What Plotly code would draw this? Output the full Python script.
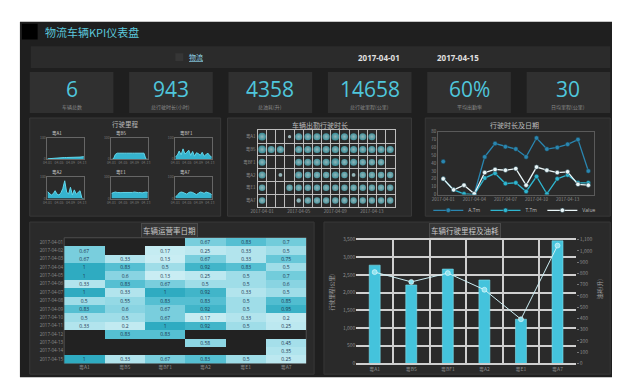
import plotly.graph_objects as go

W, H = 620, 380
CJK = "Noto Sans CJK SC"
NUM = "Open Sans"

# ---------------- data ----------------
dash_title = "物流车辆KPI仪表盘"
filter_label = "物流"
date_from = "2017-04-01"
date_to = "2017-04-15"

kpi_values = ["6", "943", "4358", "14658", "60%", "30"]
kpi_labels = ["车辆总数", "总行驶时长(小时)", "总油耗(升)", "总行驶里程(公里)", "平均出勤率", "日均里程(公里)"]

panel_titles = ["行驶里程", "车辆出勤行驶时长", "行驶时长及日期", "车辆运营率日期", "车辆行驶里程及油耗"]

vehicles = ["粤A1", "粤B5", "粤BF1", "粤A2", "粤E1", "粤A7"]
dates = ["2017-04-01", "2017-04-02", "2017-04-03", "2017-04-04", "2017-04-05",
         "2017-04-06", "2017-04-07", "2017-04-08", "2017-04-09", "2017-04-10",
         "2017-04-11", "2017-04-12", "2017-04-13", "2017-04-14", "2017-04-15"]

# small multiples (mileage per vehicle)
mini_1 = [2, 3, 4, 5, 6, 6, 7, 7, 8, 8, 8, 8, 7, 7, 8, 9, 9, 10, 11, 12]
mini_2 = [0, 0, 22, 28, 28, 27, 28, 28, 28, 27, 28, 28, 28, 28, 28, 27, 28, 28, 0, 0]
mini_3 = [12, 18, 38, 20, 48, 24, 32, 42, 18, 36, 14, 30, 26, 18, 32, 14, 22, 28, 16, 10]
mini_4 = [32, 26, 16, 22, 36, 20, 16, 26, 46, 82, 30, 20, 52, 16, 40, 20, 26, 36, 0, 0]
mini_5 = [24, 28, 30, 28, 26, 27, 28, 28, 27, 28, 26, 28, 30, 28, 27, 28, 26, 28, 30, 28]
mini_6 = [8, 14, 26, 30, 28, 24, 20, 28, 30, 28, 24, 18, 24, 30, 28, 24, 30, 28, 24, 18]
minis = [mini_1, mini_2, mini_3, mini_4, mini_5, mini_6]

# dot matrix (vehicle x date), None = no record
dots_1 = [0.8, None, None, 0.1, 0.7, 0.7, 0.7, 0.7, 0.8, 0.7, 0.7, 0.7, 0.7, None, None]
dots_2 = [0.8, 0.7, 0.7, None, 0.7, 0.7, 0.7, 0.7, 0.7, 0.7, 0.7, 0.7, 0.7, 0.7, 0.7]
dots_3 = [0.7, None, None, None, 0.7, 0.7, 0.7, 0.7, 0.8, 0.6, 0.7, 0.6, 0.6, 0.6, None]
dots_4 = [0.7, None, 0.2, None, 0.7, 0.6, 0.6, 0.6, 0.7, 0.6, 0.2, 0.6, 0.6, 0.6, 0.6]
dots_5 = [0.6, None, None, 0.6, 0.6, 0.6, 0.6, 0.6, 0.6, 0.6, 0.6, 0.6, 0.6, 0.6, 0.6]
dots_6 = [0.6, None, None, None, 0.3, 0.6, 0.6, 0.6, 0.6, 0.6, 0.6, 0.6, 0.6, 0.6, 0.6]
dot_rows = [dots_1, dots_2, dots_3, dots_4, dots_5, dots_6]

# line chart
line_names = ["A.Tm", "T.Tm", "Value"]
line_a = [42, None, None, 1, 48, 65, 61, 58, 48, 72, 58, 60, 64, 70, 30]
line_b = [20, 6, 1, 0, 21, 27, 14, 15, 4, 23, 1, 20, 25, 15, 15]
line_c = [20, 6, 12, 1, 28, 32, 31, 33, 12, 35, 31, 28, 29, 13, 12]

# heatmap (date rows x vehicle columns)
heat = [
    [None, None, None, 0.67, 0.83, 0.7],
    [0.67, None, 0.17, 0.25, 0.33, 0.5],
    [0.67, 0.33, 0.13, 0.67, 0.33, 0.75],
    [1, 0.83, 0.5, 0.92, 0.83, 0.5],
    [1, 0.6, 0.13, 0.25, 0.5, 0.7],
    [0.33, 0.83, 0.67, 0.5, 0.5, 0.6],
    [1, 0.33, 1, 0.92, 0.33, 0.5],
    [0.5, 0.55, 0.83, 0.83, 0.5, 0.85],
    [0.83, 0.6, 0.67, 0.92, 0.5, 0.95],
    [0.5, 0.5, 0.67, 0.17, 0.33, 0.2],
    [0.33, 0.2, 1, 0.92, 0.5, 0.25],
    [None, 0.83, 0.83, None, None, None],
    [None, None, None, 0.58, None, 0.45],
    [None, None, None, None, None, 0.35],
    [1, 0.33, 0.67, 0.83, 0.5, 0.25],
]

# bar + line chart
bar_mileage = [2780, 2220, 2670, 2360, 1250, 3470]
line_fuel = [812, 725, 803, 655, 393, 1048]

# ---------------- helpers ----------------
def dx(a, b):
    return [a / W, b / W]

def dy(top, bottom):
    return [1 - bottom / H, 1 - top / H]

def rect(x0, y0, x1, y1, fill, line=None, lw=0):
    return dict(type="rect", xref="paper", yref="paper", x0=x0 / W, x1=x1 / W,
                y0=1 - y1 / H, y1=1 - y0 / H, fillcolor=fill,
                line=dict(color=line or fill, width=lw), layer="below")

def txt(x, y, s, size, color, xanchor="center", family=CJK, **kw):
    return dict(xref="paper", yref="paper", x=x / W, y=1 - y / H, text=s, showarrow=False,
                font=dict(size=size, color=color, family=family), xanchor=xanchor,
                yanchor="middle", **kw)

BG = "#1f1f1f"
PANEL = "#2a2a2a"
PBORDER = "#383838"
CYAN = "#4fc6dc"
TICK = "#8c8c8c"

shapes, annos = [], []
fig = go.Figure()
layout = {}

# background + header
shapes.append(rect(5, 10, 612, 372, BG))
shapes.append(rect(7, 12, 23, 28, "#000000"))
annos.append(txt(28, 20, dash_title, 11, "#5cc8dc", xanchor="left"))
shapes.append(rect(16, 35, 605, 57, "#2b2b2b"))
shapes.append(rect(163, 42, 171, 50, "#363636"))
annos.append(txt(184, 46, "<u>" + filter_label + "</u>", 7, "#8fd3ea"))
annos.append(txt(370, 46, "<b>" + date_from + "</b>", 8, "#e0e0e0", family=NUM))
annos.append(txt(450, 46, "<b>" + date_to + "</b>", 8, "#e0e0e0", family=NUM))

# KPI boxes
bw, gap, x0 = 85, 16, 15
for i, (v, lab) in enumerate(zip(kpi_values, kpi_labels)):
    a = x0 + i * (bw + gap)
    shapes.append(rect(a, 61, a + bw, 103, "#303030"))
    annos.append(txt(a + bw / 2, 78, v, 21, CYAN, family=NUM))
    annos.append(txt(a + bw / 2, 97, lab, 5, "#8a8a8a"))

# panels
for (a, b, c, d) in [(15, 108, 209, 208), (216, 108, 403, 208), (417, 108, 605, 208),
                     (15, 214, 304, 369), (314, 214, 605, 369)]:
    shapes.append(rect(a, b, c, d, PANEL, PBORDER, 1))

annos.append(txt(112, 114.5, panel_titles[0], 6.5, "#bdbdbd"))
annos.append(txt(310, 115, panel_titles[1], 7, "#bdbdbd"))
annos.append(txt(508, 115, panel_titles[2], 7, "#bdbdbd"))
annos.append(txt(157, 223, panel_titles[3], 7.5, "#c8c8c8", bgcolor="#353535",
                 bordercolor="#4a4a4a", borderwidth=1, borderpad=1))
annos.append(txt(457, 223, panel_titles[4], 7.5, "#c8c8c8", bgcolor="#353535",
                 bordercolor="#4a4a4a", borderwidth=1, borderpad=1))

# ---------------- small multiples ----------------
mini_x = [(33, 70), (98, 135), (163, 200)]
mini_y = [(128, 150), (168, 190)]
mini_idx = list(range(20))
k = 0
for r in range(2):
    for c in range(3):
        k += 1
        n = "" if k == 1 else str(k)
        fig.add_trace(go.Scatter(x=mini_idx, y=minis[k - 1], mode="lines", fill="tozeroy",
                                 line=dict(color="#62d6ea", width=1), fillcolor="#36b4cf",
                                 xaxis="x" + n, yaxis="y" + n, showlegend=False,
                                 hoverinfo="skip"))
        layout["xaxis" + n] = dict(domain=dx(*mini_x[c]), anchor="y" + n, range=[0, 19],
                                   showgrid=False, zeroline=False, showline=True, mirror=True,
                                   linecolor="#666666", linewidth=1, tickvals=[0, 6, 12, 18],
                                   ticktext=["04-01", "04-05", "04-09", "04-13"],
                                   tickfont=dict(size=3.5, color="#777777"), ticks="")
        layout["yaxis" + n] = dict(domain=dy(*mini_y[r]), anchor="x" + n, range=[0, 100],
                                   showgrid=False, zeroline=False, showline=True, mirror=True,
                                   linecolor="#666666", linewidth=1, tickvals=[0, 100],
                                   tickfont=dict(size=3.5, color="#777777"), ticks="")
        annos.append(txt(mini_x[c][0] + 3, mini_y[r][0] - 4, vehicles[k - 1], 4.5, "#cfcfcf",
                         xanchor="left"))

# ---------------- dot matrix ----------------
dxs, dys, dvs = [], [], []
for veh, row in zip(vehicles, dot_rows):
    for d, v in zip(dates, row):
        if v is not None:
            dxs.append(d)
            dys.append(veh)
            dvs.append(v)
fig.add_trace(go.Scatter(x=dxs, y=dys, mode="markers", xaxis="x7", yaxis="y7",
                         showlegend=False, hoverinfo="skip",
                         marker=dict(size=[2.5 + 6.5 * v for v in dvs], color=dvs,
                                     colorscale=[[0, "#ffffff"], [0.4, "#7fd8e2"], [1, "#14a2b6"]],
                                     cmin=0, cmax=1, line=dict(width=0),
                                     gradient=dict(type="radial", color="#bff1f5"))))
layout["xaxis7"] = dict(domain=dx(246.5, 386), anchor="y7", type="category",
                        categoryorder="array", categoryarray=dates, range=[-0.5, 14.5],
                        tickson="boundaries", tickmode="array", tickvals=dates,
                        ticktext=[d if i % 4 == 0 else "" for i, d in enumerate(dates)],
                        showgrid=True, gridcolor="#bdbdbd", gridwidth=1, showline=True,
                        mirror=True, linecolor="#bdbdbd", ticks="", zeroline=False,
                        tickfont=dict(size=4.5, color=TICK), tickangle=0)
layout["yaxis7"] = dict(domain=dy(120.5, 198.5), anchor="x7", type="category",
                        categoryorder="array", categoryarray=vehicles[::-1], range=[-0.5, 5.5],
                        tickson="boundaries", showgrid=True, gridcolor="#bdbdbd", gridwidth=1,
                        showline=True, mirror=True, linecolor="#bdbdbd", ticks="",
                        zeroline=False, tickfont=dict(size=4.5, color=TICK))

# ---------------- line chart ----------------
line_cols = ["#2a86b0", "#2fb6d0", "#eaf6f8"]
for name, ys, col in zip(line_names, [line_a, line_b, line_c], line_cols):
    fig.add_trace(go.Scatter(x=dates, y=ys, name=name, mode="lines+markers", xaxis="x8",
                             yaxis="y8", line=dict(color=col, width=1.3),
                             marker=dict(size=4.5, color=col, line=dict(color="#1f3a44", width=0.5)),
                             connectgaps=False, hoverinfo="skip", legend="legend"))
layout["xaxis8"] = dict(domain=dx(430, 588), anchor="y8", type="category",
                        categoryorder="array", categoryarray=dates, range=[-0.5, 14.5],
                        tickmode="array", tickvals=dates[::3], showgrid=False,
                        showline=True, mirror=True, linecolor="#5a5a5a", ticks="",
                        zeroline=False, tickfont=dict(size=4.5, color=TICK), tickangle=0)
layout["yaxis8"] = dict(domain=dy(122, 186), anchor="x8", range=[0, 80], dtick=10,
                        showgrid=False, showline=True, mirror=True, linecolor="#5a5a5a",
                        ticks="", zeroline=False, tickfont=dict(size=4.5, color=TICK))
layout["legend"] = dict(orientation="h", x=508 / W, y=1 - 202 / H, xanchor="center",
                        yanchor="middle", font=dict(size=5, color="#bdbdbd", family=NUM),
                        itemwidth=30, bgcolor="rgba(0,0,0,0)", tracegroupgap=0)

# ---------------- heatmap ----------------
shapes.append(rect(50, 230, 296, 358, "#222222", "#4e4e4e", 1))
heat_text = [["" if v is None else f"{v:g}" for v in row] for row in heat]
fig.add_trace(go.Heatmap(z=heat, x=vehicles, y=dates, xaxis="x9", yaxis="y9",
                         text=heat_text, texttemplate="%{text}",
                         textfont=dict(size=5, color="#1d3550", family=NUM),
                         colorscale=[[0, "#d8f3f7"], [0.5, "#9fdde8"], [0.8, "#5cc3d5"], [1, "#2fabc1"]],
                         zmin=0, zmax=1, showscale=False, hoverinfo="skip", xgap=0, ygap=0))
layout["xaxis9"] = dict(domain=dx(50, 296), anchor="y9", type="category", showgrid=False,
                        zeroline=False, ticks="", tickfont=dict(size=5, color=TICK))
layout["yaxis9"] = dict(domain=dy(230, 358), anchor="x9", type="category",
                        categoryorder="array", categoryarray=dates[::-1],
                        showgrid=False, zeroline=False, ticks="",
                        tickfont=dict(size=4.5, color=TICK, family=NUM))

# ---------------- bar + line ----------------
GRID = "#cfcfcf"
fig.add_trace(go.Bar(x=vehicles, y=bar_mileage, xaxis="x10", yaxis="y10", width=0.3,
                     marker=dict(color="#44c3dc", line=dict(color="#7fe0ef", width=0.6)),
                     showlegend=False, hoverinfo="skip"))
fig.add_trace(go.Scatter(x=vehicles, y=line_fuel, xaxis="x10", yaxis="y11",
                         mode="lines+markers", line=dict(color="#cdeff5", width=1),
                         marker=dict(size=5, color="#8fe3f0", line=dict(color="#ffffff", width=0.5)),
                         showlegend=False, hoverinfo="skip"))
layout["xaxis10"] = dict(domain=dx(347, 570), anchor="y10", type="category",
                         tickson="boundaries", showgrid=True, gridcolor=GRID, gridwidth=1.5,
                         showline=True, mirror=True, linecolor=GRID, linewidth=1.5, ticks="",
                         zeroline=False, tickfont=dict(size=5, color=TICK))
layout["yaxis10"] = dict(domain=dy(232, 358), anchor="x10", range=[0, 3500], dtick=500,
                         tickformat=",", showgrid=True, gridcolor=GRID, gridwidth=1.5,
                         zeroline=False, ticks="", tickfont=dict(size=5, color=TICK))
layout["yaxis11"] = dict(overlaying="y10", anchor="x10", side="right", range=[0, 1100],
                         dtick=100, tickformat=",", showgrid=False, zeroline=False,
                         ticks="outside", ticklen=2, tickcolor="#777777",
                         tickfont=dict(size=5, color=TICK))
annos.append(txt(322, 285, "行驶里程(公里)", 5.5, "#a0a0a0", textangle=-90))
annos.append(txt(594, 282, "油耗(升)", 5.5, "#a0a0a0", textangle=-90))

fig.update_layout(width=W, height=H, margin=dict(l=0, r=0, t=0, b=0), autosize=False,
                  paper_bgcolor="#ffffff", plot_bgcolor="rgba(0,0,0,0)",
                  shapes=shapes, annotations=annos, showlegend=True,
                  font=dict(family=CJK, color="#bbbbbb"), **layout)

fig.write_html("out.html")
